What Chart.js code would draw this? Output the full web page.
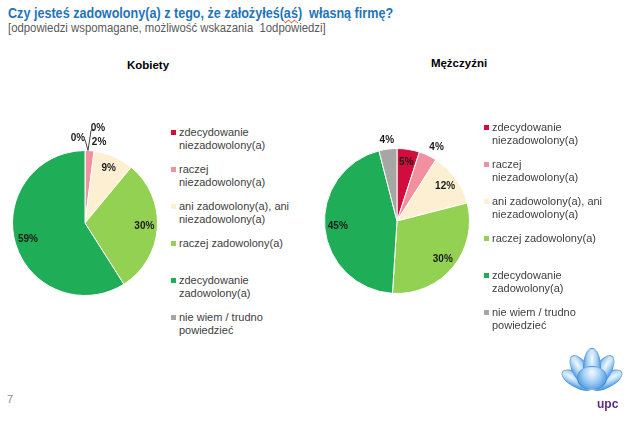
<!DOCTYPE html>
<html>
<head>
<meta charset="utf-8">
<script src="https://cdn.jsdelivr.net/npm/chart.js@4/dist/chart.umd.min.js"></script>
<style>
  body { margin: 0; width: 640px; height: 421px; background: #fff; position: relative; overflow: hidden; font-family: "Liberation Sans", Arial, sans-serif; }
  #title { position: absolute; left: 8px; top: 4px; font-size: 15px; font-weight: bold; color: #1f74ba; white-space: pre; transform: scaleX(0.84); transform-origin: left top; }
  #title .sp { text-decoration: underline wavy #e02020; text-decoration-thickness: 1px; }
  #subtitle { position: absolute; left: 8px; top: 21px; font-size: 12px; color: #595959; white-space: pre; transform: scaleX(0.945); transform-origin: left top; }
  .ctitle { position: absolute; font-size: 11.5px; font-weight: bold; color: #000; transform: translate(-50%, -50%); white-space: nowrap; }
  canvas { position: absolute; }
  .legend { position: absolute; margin: 0; padding: 0; list-style: none; font-size: 11px; line-height: 13px; color: #404040; }
  .legend li { position: relative; height: 37px; padding-left: 8px; white-space: nowrap; }
  .legend li span { position: absolute; left: 0; top: 4px; width: 5px; height: 5px; }
  #page { position: absolute; left: 7px; top: 393px; font-size: 11px; color: #8a8a8a; }
  #logo { position: absolute; left: 563px; top: 340px; width: 58px; height: 58px; }
  .petal { position: absolute; left: 20px; top: 8px; width: 18px; height: 40px; border-radius: 50% 50% 45% 45%; transform-origin: 50% 100%;
           background: radial-gradient(ellipse at 50% 25%, #f2f8ff 0%, #a9d2f5 40%, #4f9be0 80%, #2f7cc9 100%); border: 1px solid rgba(40,110,190,0.35); box-sizing: border-box; }
  #upc { position: absolute; left: 597px; top: 397px; font-size: 12px; font-weight: bold; color: #5b2d86; }
</style>
</head>
<body>
<div id="title">Czy jesteś zadowolony(a) z tego, że założyłeś(<span class="sp">aś</span>)  własną firmę?</div>
<div id="subtitle">[odpowiedzi wspomagane, możliwość wskazania  1odpowiedzi]</div>

<div class="ctitle" style="left:148px; top:65px">Kobiety</div>
<div class="ctitle" style="left:459px; top:63px">Mężczyźni</div>

<canvas id="chartK" width="170" height="200" style="left:0px; top:123px"></canvas>
<canvas id="chartM" width="200" height="200" style="left:297px; top:121px"></canvas>
<ul class="legend" id="legendK" style="left:171px; top:126px"></ul>
<ul class="legend" id="legendM" style="left:484px; top:121px"></ul>

<div id="page">7</div>
<div id="logo">
  <div class="petal" style="transform:rotate(-62deg) scale(0.85)"></div>
  <div class="petal" style="transform:rotate(62deg) scale(0.85)"></div>
  <div class="petal" style="transform:rotate(-32deg) scale(0.95)"></div>
  <div class="petal" style="transform:rotate(32deg) scale(0.95)"></div>
  <div class="petal" style="transform:rotate(0deg)"></div>
  <div class="petal" style="top:26px; left:14px; width:30px; height:24px; border-radius:50%"></div>
</div>
<div id="upc">upc</div>

<script>
// categories (legend / slice labels)
const categories = [
  ['zdecydowanie', 'niezadowolony(a)'],
  ['raczej', 'niezadowolony(a)'],
  ['ani zadowolony(a), ani', 'niezadowolony(a)'],
  ['raczej zadowolony(a)'],
  ['zdecydowanie', 'zadowolony(a)'],
  ['nie wiem / trudno', 'powiedzieć']
];
const sliceColors = ['#d10d3e', '#f3909f', '#fdf0d2', '#93d152', '#1fae57', '#a6a6a6'];

// percentages
const womenValues = [0, 2, 9, 30, 59, 0];
const menValues = [5, 4, 12, 30, 45, 4];

// draws the % labels (inside for big slices, outside for small ones)
const pieLabels = {
  id: 'pieLabels',
  afterDatasetsDraw(chart, args, opts) {
    const ctx = chart.ctx;
    const meta = chart.getDatasetMeta(0);
    const values = chart.data.datasets[0].data;
    ctx.save();
    ctx.font = 'bold 10px "Liberation Sans", Arial, sans-serif';
    ctx.fillStyle = '#1a1a1a';
    ctx.strokeStyle = '#404040';
    ctx.lineWidth = 1;
    ctx.textAlign = 'center';
    ctx.textBaseline = 'middle';
    meta.data.forEach((arc, i) => {
      const p = arc.getProps(['x', 'y', 'startAngle', 'endAngle', 'outerRadius'], true);
      const mid = (p.startAngle + p.endAngle) / 2;
      const v = values[i];
      const nudge = (opts.nudge && opts.nudge[i]) || [0, 0];
      if (v === 0) {
        // zero slice: label with leader line from the rim
        const ex = p.x + Math.cos(mid) * p.outerRadius;
        const ey = p.y + Math.sin(mid) * p.outerRadius;
        const z = opts.zero[i];
        ctx.beginPath();
        ctx.moveTo(ex + z.line[0][0], ey + z.line[0][1]);
        for (let k = 1; k < z.line.length; k++) ctx.lineTo(ex + z.line[k][0], ey + z.line[k][1]);
        ctx.stroke();
        ctx.fillText(v + '%', ex + z.at[0], ey + z.at[1]);
        return;
      }
      const r = v >= 5 ? p.outerRadius * 0.82 : p.outerRadius * 1.12;
      ctx.fillText(v + '%', p.x + Math.cos(mid) * r + nudge[0], p.y + Math.sin(mid) * r + nudge[1]);
    });
    ctx.restore();
  }
};

function makePie(id, values, padLR, labelOpts) {
  return new Chart(document.getElementById(id), {
    type: 'pie',
    data: {
      labels: categories,
      datasets: [{
        data: values,
        backgroundColor: sliceColors,
        borderColor: '#ffffff',
        borderWidth: 1
      }]
    },
    options: {
      responsive: false,
      animation: false,
      layout: { padding: { left: padLR, right: padLR, top: 27, bottom: 27 } },
      plugins: {
        legend: { display: false },
        tooltip: { enabled: false },
        pieLabels: labelOpts
      }
    },
    plugins: [pieLabels]
  });
}

function makeLegend(id) {
  const ul = document.getElementById(id);
  categories.forEach((lines, i) => {
    const li = document.createElement('li');
    li.innerHTML = '<span style="background:' + sliceColors[i] + '"></span>' + lines.join('<br>');
    ul.appendChild(li);
  });
}

makePie('chartK', womenValues, 12, {
  nudge: { 1: [9, 0] },
  zero: {
    0: { at: [13, -22], line: [[3, 0], [6, -20], [9, -21]] },
    5: { at: [-7, -12], line: [[0, -11], [3, 0]] }
  }
});
makePie('chartM', menValues, 27, {
  nudge: { 1: [5, 0] },
  zero: {}
});
makeLegend('legendK');
makeLegend('legendM');
</script>
</body>
</html>
